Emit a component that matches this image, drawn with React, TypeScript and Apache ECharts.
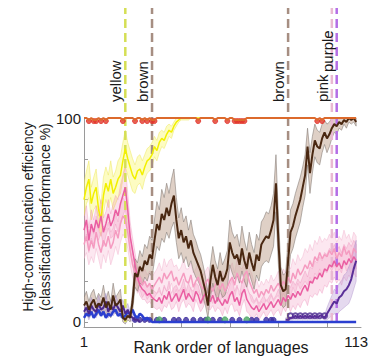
import React, { useEffect, useRef } from "react";
import * as echarts from "echarts";

// ---- axis ticks / labels ----
const rankLabels = [1, 113];
const rankTicks = [21, 41, 61, 81, 101];
const yLabels = [0, 100];
const yTicks = [0, 20, 40, 60, 80, 100];

// ---- vertical dashed markers ----
const markerRanks = [18, 29, 85, 103, 105];
const markerNames = ["yellow", "brown", "brown", "pink", "purple"];

// ---- series values (rank 1..113) ----
const orange = [
  100, 100, 99, 100, 99, 99, 100, 99, 100, 99,
  100, 100, 100, 100, 100, 100, 99, 100, 100, 100,
  100, 99, 100, 100, 99, 100, 99, 100, 99, 99,
  100, 100, 100, 100, 100, 100, 100, 100, 100, 100,
  100, 100, 100, 100, 100, 100, 100, 99, 100, 100,
  100, 100, 100, 100, 99, 100, 100, 100, 100, 99,
  100, 100, 99, 99, 99, 99, 99, 100, 100, 100,
  100, 100, 100, 100, 100, 100, 100, 100, 100, 100,
  100, 100, 100, 100, 100, 100, 100, 100, 100, 100,
  100, 100, 100, 100, 100, 100, 99, 100, 99, 100,
  100, 100, 100, 100, 100, 100, 100, 100, 100, 100,
  100, 100, 100,
];
const redDotRanks = [3, 5, 6, 8, 10, 17, 22, 25, 27, 29, 30, 48, 55, 60, 63, 64, 65, 66, 67, 97, 99];

// yellow (ranks 1..50, then hidden under the 100% line)
const yellow = [
  60, 66, 70, 58, 63, 66, 55, 50, 62, 68,
  64, 70, 63, 66, 70, 72, 79, 85, 80, 76,
  72, 70, 74, 75, 72, 76, 79, 80, 82, 86,
  84, 88, 90, 89, 92, 94, 93, 96, 98, 99,
  100, 100, 100, 100, 100, 100, 100, 100, 100, 100,
];
const yellowErr = [
  8, 8, 9, 8, 8, 9, 8, 8, 9, 8,
  8, 9, 8, 8, 9, 9, 9, 9, 8, 8,
  8, 7, 7, 7, 7, 6, 6, 6, 6, 5,
  5, 5, 4, 4, 4, 3, 3, 2, 2, 1,
  1, 1, 1, 1, 0, 0, 0, 0, 0, 0,
];

const brown = [
  8, 10, 6, 9, 11, 7, 9, 8, 12, 7, 10, 6, 13, 8, 9, 11,
  2, 1, 3, 2,
  10, 24, 22, 27, 25, 30, 28, 33, 31,
  40, 48, 45, 53, 50, 56, 52,
  58, 62,
  50, 41, 45, 39, 42, 36, 40,
  34, 31, 28, 25, 20, 15, 8, 20,
  28, 22, 18, 25, 20, 22, 26, 39,
  34, 31, 33, 28, 36, 30, 26, 34, 29, 25, 33, 30, 38, 40,
  42, 41, 45, 50,
  68, 40, 18, 15, 16, 30,
  44, 47, 52, 56, 60, 66, 72, 86, 73, 82, 89, 86, 85, 90, 93, 90, 92, 95, 97, 96, 98, 97, 99, 98, 100, 99, 100, 98,
];
const brownErr = [
  4, 5, 4, 5, 5, 4, 5, 4, 6, 4, 5, 4, 6, 4, 5, 5,
  2, 2, 2, 2,
  5, 7, 7, 8, 7, 8, 8, 9, 9,
  10, 11, 10, 12, 11, 12, 11,
  12, 13,
  11, 10, 11, 10, 10, 9, 10,
  9, 9, 8, 8, 8, 7, 6, 8,
  9, 8, 8, 9, 8, 9, 9, 11,
  10, 10, 10, 9, 11, 10, 9, 10, 9, 9, 10, 10, 11, 11,
  12, 12, 12, 13,
  14, 12, 9, 8, 8, 10,
  11, 11, 11, 11, 11, 10, 10, 9, 10, 9, 8, 8, 8, 7, 6, 7, 6, 5, 4, 4, 3, 3, 2, 3, 2, 2, 2, 2,
];

const pink1 = [
  45, 50, 40, 48, 44, 50, 46, 52, 44, 48,
  53, 47, 50, 55, 52, 58, 62, 66, 55, 42,
  35, 28, 22, 18, 16, 15, 13, 14, 12, 11,
  10, 12, 9, 13, 11, 15, 10, 12, 14, 10,
  13, 16, 11, 14, 12, 10, 15, 13, 9, 12,
  14, 11, 10, 13, 9, 12, 10, 8, 11, 9,
  13, 15, 10, 12, 8, 14, 16, 11, 9, 7,
  6, 8, 5, 7, 9, 6, 8, 10, 7, 9,
  11, 8, 12, 10, 13, 11, 14, 12, 15, 13,
  16, 18, 15, 20, 19, 22, 21, 24, 22, 26,
  25, 28, 27, 30, 27, 29, 26, 30, 28, 31,
  29, 32, 30,
];
const pink1Err = [
  6, 7, 6, 7, 6, 7, 6, 8, 7, 6,
  7, 6, 8, 7, 8, 9, 10, 11, 8, 7,
  6, 6, 5, 5, 5, 4, 4, 4, 4, 4,
  4, 5, 4, 5, 4, 5, 4, 5, 4, 5,
  4, 5, 4, 5, 4, 5, 4, 5, 4, 5,
  4, 5, 4, 5, 4, 5, 4, 5, 4, 5,
  5, 6, 5, 6, 5, 6, 5, 6, 5, 6,
  4, 4, 4, 4, 4, 4, 4, 4, 4, 4,
  5, 5, 5, 5, 5, 6, 6, 6, 6, 6,
  6, 7, 7, 7, 7, 8, 8, 8, 8, 8,
  8, 8, 8, 8, 8, 8, 8, 8, 8, 8,
  8, 8, 8,
];

const pink2 = [
  38, 42, 35, 40, 36, 44, 38, 34, 40, 37,
  42, 36, 39, 45, 41, 48, 52, 50, 44, 35,
  28, 24, 20, 22, 18, 20, 17, 19, 16, 18,
  20, 22, 19, 24, 21, 23, 25, 20, 22, 18,
  21, 24, 20, 19, 23, 17, 20, 22, 18, 16,
  19, 21, 17, 15, 18, 20, 16, 19, 15, 17,
  20, 22, 18, 24, 21, 19, 23, 25, 20, 17,
  14, 16, 12, 15, 13, 16, 14, 18, 15, 17,
  19, 16, 20, 18, 22, 19, 24, 21, 26, 23,
  25, 28, 26, 30, 27, 32, 30, 34, 31, 33,
  32, 35, 33, 36, 31, 34, 32, 37, 33, 35,
  31, 36, 34,
];
const pink2Err = [
  7, 8, 7, 8, 7, 8, 7, 8, 7, 8,
  7, 8, 7, 8, 8, 9, 9, 9, 8, 7,
  6, 6, 6, 6, 6, 6, 6, 6, 6, 6,
  6, 7, 6, 7, 6, 7, 6, 7, 6, 7,
  6, 7, 6, 7, 6, 7, 6, 7, 6, 7,
  6, 6, 6, 6, 6, 6, 6, 6, 6, 6,
  6, 7, 6, 7, 6, 7, 6, 7, 6, 7,
  5, 5, 5, 5, 5, 5, 5, 5, 5, 5,
  6, 6, 6, 6, 6, 7, 7, 7, 7, 7,
  7, 8, 8, 8, 8, 8, 8, 8, 8, 8,
  8, 8, 8, 8, 8, 8, 8, 8, 8, 8,
  8, 8, 8,
];

// purple: early ranks 1..24, late ranks 84..113
const purpleEarlyStart = 1;
const purpleEarly = [5, 7, 4, 8, 6, 5, 9, 6, 7, 10, 5, 8, 6, 9, 7, 5, 8, 4, 6, 3, 2, 1, 1, 0];
const purpleEarlyErr = [3, 3, 3, 4, 3, 3, 4, 3, 3, 4, 3, 3, 3, 4, 3, 3, 3, 3, 3, 2, 2, 1, 1, 0];
const purpleLateStart = 84;
const purpleLate = [1, 1, 2, 2, 3, 2, 3, 2, 3, 2, 3, 2, 3, 2, 3, 3, 2, 4, 6, 8, 10, 9, 12, 13, 15, 16, 18, 21, 26, 30];
const purpleLateErr = [1, 1, 1, 1, 1, 1, 1, 1, 1, 1, 1, 1, 1, 1, 1, 1, 1, 3, 4, 5, 6, 6, 7, 7, 8, 8, 9, 9, 10, 10];

const blue = [
  2, 4, 3, 5, 2, 4, 6, 3, 5, 2,
  4, 3, 5, 6, 3, 4, 2, 3, 5, 4,
  6, 3, 2, 4, 3, 1, 2, 1, 0, 0,
  0, 0, 0, 0, 0, 0, 0, 0, 0, 0,
  0, 0, 0, 0, 0, 0, 0, 0, 0, 0,
  0, 0, 0, 0, 0, 0, 0, 0, 0, 0,
  0, 0, 0, 0, 0, 0, 0, 0, 0, 0,
  0, 0, 0, 0, 0, 0, 0, 0, 0, 0,
  0, 0, 0, 0, 0, 0, 0, 0, 0, 0,
  0, 0, 0, 0, 0, 0, 0, 0, 0, 0,
  0, 0, 0, 0, 0, 0, 0, 0, 0, 0,
  0, 0, 0,
];

const purpleDotRanks = [22, 24, 26, 28, 31, 34, 38, 40, 43, 46, 49, 51, 54, 57, 62, 65, 70, 72, 76, 78, 79];
const purpleDotValue = 1;
const greenDotRanks = [32, 52, 59, 68];
const greenDotValue = 1;
const circleRanks = [86, 88, 90, 92, 94, 96, 98, 100];
const circleValue = 3;

// ---- styling ----
const FONT = '"Liberation Sans", Arial, Helvetica, sans-serif';
const markerColors = ["#d5df55", "#a68e82", "#a68e82", "#e9b9d2", "#b46ee6"];
const markerLift = [0, 0, 0, 0, 30];
const markerTopValue = 154;

const toPairs = (vals: number[], start: number) => vals.map((v, i) => [start + i, v]);
const toBand = (vals: number[], err: number[], start: number) =>
  vals.map((v, i) => [start + i, v - err[i], v + err[i]]);

function bandSeries(points: number[][], fill: string, stroke: string) {
  return {
    type: "custom",
    silent: true,
    clip: true,
    data: points,
    encode: { x: 0, y: [1, 2] },
    renderItem: (params: any, api: any) => {
      if (params.dataIndex !== 0) return null;
      const upper = points.map((p) => api.coord([p[0], p[2]]));
      const lower = points.map((p) => api.coord([p[0], p[1]])).reverse();
      return {
        type: "polygon",
        shape: { points: upper.concat(lower) },
        style: { fill, stroke, lineWidth: 0.8 },
      };
    },
  };
}

function lineSeries(points: number[][], color: string, width: number) {
  return {
    type: "line",
    data: points,
    symbol: "none",
    clip: false,
    lineStyle: { color, width },
    silent: true,
  };
}

function dotSeries(ranks: number[], value: number, color: string, size: number, symbol = "circle") {
  return {
    type: "scatter",
    data: ranks.map((r) => [r, value]),
    symbol,
    symbolSize: size,
    clip: false,
    itemStyle: { color, borderColor: color },
    silent: true,
  };
}

export default function App() {
  const ref = useRef<HTMLDivElement>(null);

  useEffect(() => {
    if (!ref.current) return;
    const chart = echarts.init(ref.current, null, { renderer: "svg" });

    const markerSeries = {
      type: "custom",
      silent: true,
      clip: false,
      data: markerRanks.map((r) => [r, 0]),
      encode: { x: 0, y: 1 },
      renderItem: (params: any, api: any) => {
        const i = params.dataIndex;
        const r = api.value(0);
        const bottom = api.coord([r, 0]);
        const top = api.coord([r, markerTopValue]);
        const hundred = api.coord([r, 100]);
        const x = bottom[0];
        return {
          type: "group",
          children: [
            {
              type: "line",
              shape: { x1: x, y1: bottom[1], x2: x, y2: top[1] },
              style: { stroke: markerColors[i], lineWidth: 2.5, lineDash: [9, 5] },
            },
            {
              type: "text",
              x: x - 2,
              y: hundred[1] - 16 - markerLift[i],
              rotation: Math.PI / 2,
              style: {
                text: markerNames[i],
                fill: "#1a1a1a",
                font: `15px ${FONT}`,
                align: "left",
                verticalAlign: "bottom",
              },
            },
          ],
        };
      },
    };

    const option: any = {
      animation: false,
      backgroundColor: "#ffffff",
      grid: { left: 84, right: 10, top: 118, bottom: 33, containLabel: false, outerBoundsMode: "none" },
      xAxis: {
        type: "value",
        min: 1,
        max: 115,
        axisLine: { show: true, onZero: false, lineStyle: { color: "#9a9a9a", width: 1 } },
        axisTick: { show: true, inside: true, length: 4, customValues: rankTicks, lineStyle: { color: "#9a9a9a" } },
        axisLabel: { customValues: rankLabels, fontSize: 15, fontFamily: FONT, color: "#1a1a1a", margin: 7 },
        splitLine: { show: false },
      },
      yAxis: {
        type: "value",
        min: -2.5,
        max: 100,
        axisLine: { show: true, onZero: false, lineStyle: { color: "#9a9a9a", width: 1 } },
        axisTick: { show: true, inside: true, length: 4, customValues: yTicks, lineStyle: { color: "#9a9a9a" } },
        axisLabel: { customValues: yLabels, fontSize: 15, fontFamily: FONT, color: "#1a1a1a", margin: 3 },
        splitLine: { show: false },
      },
      graphic: [
        {
          type: "text",
          x: 36,
          y: 217,
          rotation: Math.PI / 2,
          style: {
            text: "High-communication efficiency\n(classification performance %)",
            font: `14px ${FONT}`,
            lineHeight: 17,
            fill: "#1a1a1a",
            align: "center",
            verticalAlign: "middle",
          },
        },
        {
          type: "text",
          x: 221,
          y: 347,
          style: {
            text: "Rank order of languages",
            font: `16px ${FONT}`,
            fill: "#1a1a1a",
            align: "center",
            verticalAlign: "middle",
          },
        },
      ],
      series: [
        bandSeries(toBand(yellow, yellowErr, 1), "rgba(250,248,120,0.45)", "rgba(235,230,90,0.6)"),
        bandSeries(toBand(pink2, pink2Err, 1), "rgba(246,185,212,0.35)", "rgba(240,170,200,0.5)"),
        bandSeries(toBand(pink1, pink1Err, 1), "rgba(238,130,180,0.25)", "rgba(235,140,185,0.45)"),
        bandSeries(toBand(brown, brownErr, 1), "rgba(196,170,152,0.55)", "rgba(130,120,115,0.7)"),
        bandSeries(toBand(purpleEarly, purpleEarlyErr, purpleEarlyStart), "rgba(175,150,215,0.4)", "rgba(160,140,200,0.5)"),
        bandSeries(toBand(purpleLate, purpleLateErr, purpleLateStart), "rgba(190,160,215,0.4)", "rgba(170,140,200,0.5)"),
        markerSeries,
        lineSeries(toPairs(yellow, 1), "#f2f000", 1.5),
        lineSeries(toPairs(pink2, 1), "#f59bc0", 1.5),
        lineSeries(toPairs(pink1, 1), "#ea5ea2", 1.5),
        lineSeries(toPairs(blue, 1), "#2b3fd0", 2.5),
        lineSeries(toPairs(purpleEarly, purpleEarlyStart), "#4b2a90", 2),
        lineSeries(toPairs(purpleLate, purpleLateStart), "#5a2f98", 2),
        lineSeries(toPairs(brown, 1), "#4a2812", 2),
        lineSeries(toPairs(orange, 1), "#dc6a2c", 2),
        dotSeries(redDotRanks, 98.5, "#e2362a", 5),
        dotSeries(purpleDotRanks, purpleDotValue, "#3b2c9c", 5),
        dotSeries(greenDotRanks, greenDotValue, "#4aa564", 6),
        dotSeries(circleRanks, circleValue, "#4b2a90", 5, "emptyCircle"),
      ],
    };

    chart.setOption(option);
    return () => chart.dispose();
  }, []);

  return (
    <div
      ref={ref}
      style={{ position: "fixed", left: 0, top: 0, width: 371, height: 360, background: "#fff" }}
    />
  );
}
